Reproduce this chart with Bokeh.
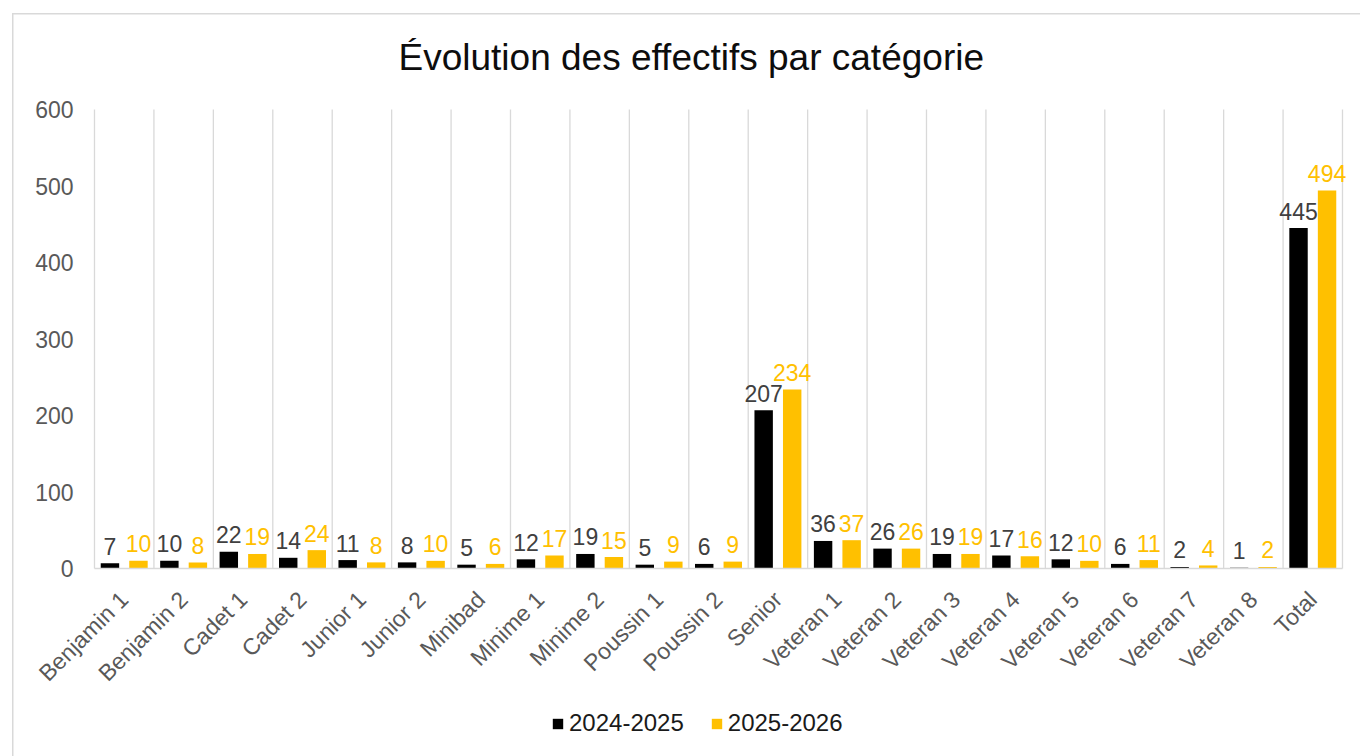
from bokeh.plotting import figure
from bokeh.models import (Range1d, FixedTicker, ColumnDataSource, Legend, LegendItem, Label)
from bokeh.core.properties import value
from bokeh.embed import file_html
from bokeh.resources import INLINE
from math import pi

categories = ["Benjamin 1", "Benjamin 2", "Cadet 1", "Cadet 2", "Junior 1", "Junior 2",
              "Minibad", "Minime 1", "Minime 2", "Poussin 1", "Poussin 2", "Senior",
              "Veteran 1", "Veteran 2", "Veteran 3", "Veteran 4", "Veteran 5",
              "Veteran 6", "Veteran 7", "Veteran 8", "Total"]
s2024 = [7, 10, 22, 14, 11, 8, 5, 12, 19, 5, 6, 207, 36, 26, 19, 17, 12, 6, 2, 1, 445]
s2025 = [10, 8, 19, 24, 8, 10, 6, 17, 15, 9, 9, 234, 37, 26, 19, 16, 10, 11, 4, 2, 494]
series_names = ["2024-2025", "2025-2026"]
y_ticks = [0, 100, 200, 300, 400, 500, 600]
title_text = "Évolution des effectifs par catégorie"

FONT = "Liberation Sans"
BLACK = "#000000"
GOLD = "#FFC000"
GRID = "#D9D9D9"
AXTXT = "#595959"

# layout (pixels)
W, H = 1360, 756
PLOT_L, PLOT_R = 94, 1342
PLOT_T, PLOT_B = 109, 568          # pixel rows of the 600 and 0 values
n = len(categories)
cat_px = (PLOT_R - PLOT_L) / n
ymax = y_ticks[-1]
k = (PLOT_B - PLOT_T) / ymax        # px per unit
y_lo = -(H - PLOT_B) / k
y_hi = ymax + PLOT_T / k
x_lo = -PLOT_L / cat_px
x_hi = n + (W - PLOT_R) / cat_px

centers = [i + 0.5 for i in range(n)]
bounds = list(range(n + 1))
off = 0.24
bw = 0.31

src = ColumnDataSource(dict(
    x1=[c - off for c in centers], x2=[c + off for c in centers],
    y1=s2024, y2=s2025,
    t1=[str(v) for v in s2024], t2=[str(v) for v in s2025],
))

p = figure(width=W, height=H, output_backend="svg", toolbar_location=None,
           x_range=Range1d(x_lo, x_hi), y_range=Range1d(y_lo, y_hi),
           min_border_left=0, min_border_right=0, min_border_top=0,
           min_border_bottom=0, tools="")
p.title.visible = False
p.outline_line_color = None
p.background_fill_alpha = 0
p.border_fill_color = None
p.styles = {
    "background": ("linear-gradient(#D9D9D9,#D9D9D9) 12px 13px / 1.5px 100% no-repeat, "
                   "linear-gradient(#D9D9D9,#D9D9D9) 12px 13px / 100% 1.5px no-repeat, white"),
}

# category separators
p.xgrid.grid_line_color = None
p.ygrid.grid_line_color = None
p.segment(x0=bounds, y0=[0] * len(bounds), x1=bounds, y1=[ymax] * len(bounds),
          line_color=GRID, line_width=1.3)

r1 = p.vbar(x="x1", top="y1", width=bw, source=src, fill_color=BLACK, line_color=None)
r2 = p.vbar(x="x2", top="y2", width=bw, source=src, fill_color=GOLD, line_color=None)

p.text(x="x1", y="y1", text="t1", source=src, text_align="center",
       text_baseline="alphabetic", y_offset=-17, text_font=value(FONT),
       text_font_size="23px", text_color="#404040")
p.text(x="x2", y="y2", text="t2", source=src, text_align="center",
       text_baseline="alphabetic", y_offset=-17, text_font=value(FONT),
       text_font_size="23px", text_color=GOLD)

# x axis (drawn at value 0)
p.xaxis.fixed_location = 0
p.xaxis.bounds = (0, n)
p.xaxis.ticker = FixedTicker(ticks=centers)
p.xaxis.major_label_overrides = {c: lab for c, lab in zip(centers, categories)}
p.xaxis.major_label_orientation = pi / 4
p.xaxis.axis_line_color = GRID
p.xaxis.axis_line_width = 1.3
p.xaxis.major_tick_line_color = None
p.xaxis.minor_tick_line_color = None
p.xaxis.major_tick_in = 0
p.xaxis.major_tick_out = 0
p.xaxis.major_label_standoff = 27
p.xaxis.major_label_text_font = FONT
p.xaxis.major_label_text_font_size = "23px"
p.xaxis.major_label_text_color = AXTXT

# y axis (drawn at x = 0)
p.yaxis.fixed_location = 0
p.yaxis.bounds = (0, ymax)
p.yaxis.ticker = FixedTicker(ticks=y_ticks)
p.yaxis.axis_line_color = None
p.yaxis.major_tick_line_color = None
p.yaxis.minor_tick_line_color = None
p.yaxis.major_tick_in = 0
p.yaxis.major_tick_out = 0
p.yaxis.major_label_standoff = 21
p.yaxis.major_label_text_font = FONT
p.yaxis.major_label_text_font_size = "23px"
p.yaxis.major_label_text_color = AXTXT

# title
p.add_layout(Label(x=(398 - PLOT_L) / cat_px, y=ymax + (PLOT_T - 57) / k,
                   text=title_text, text_align="left", text_baseline="alphabetic",
                   text_font=FONT, text_font_size="37px", text_color="#0D0D0D"))

# legend
legend = Legend(items=[LegendItem(label=series_names[0], renderers=[r1]),
                       LegendItem(label=series_names[1], renderers=[r2])],
                orientation="horizontal", location=(551, 19),
                glyph_width=13, glyph_height=13, label_standoff=5, spacing=26,
                padding=0, margin=0, border_line_color=None,
                background_fill_alpha=0,
                label_text_font=FONT, label_text_font_size="24px",
                label_text_color="#1A1A1A")
p.add_layout(legend, "center")

open("out.html", "w").write(file_html(p, INLINE))
